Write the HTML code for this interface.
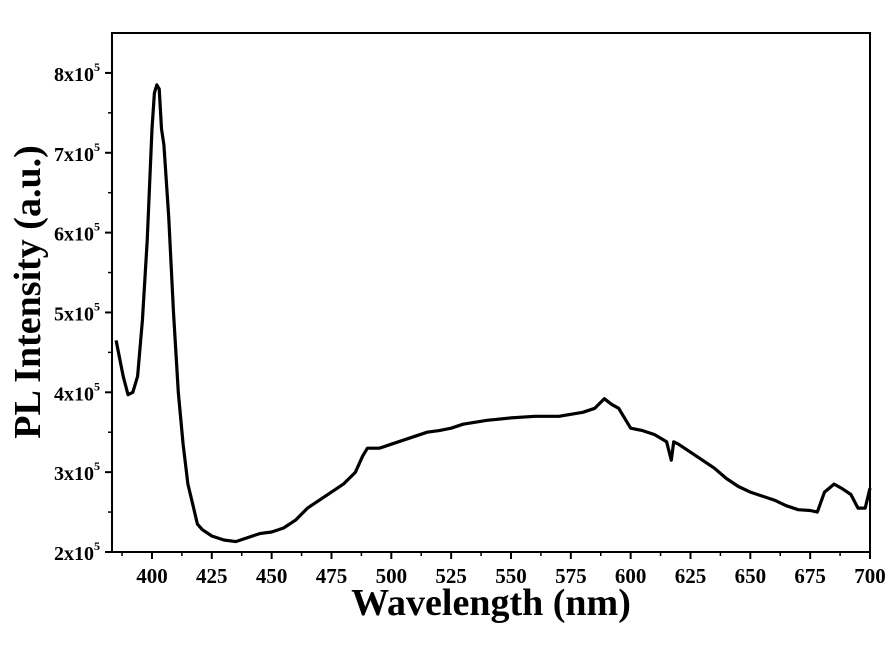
<!DOCTYPE html>
<html><head><meta charset="utf-8"><style>
body{margin:0;background:#fff;}
svg text{font-family:"Liberation Serif",serif;font-weight:bold;fill:#000;}
</style></head><body>
<svg id="chart" width="889" height="655">
<g id="axes"></g>
<path id="curve" fill="none" stroke="#000" stroke-width="3.2" stroke-linejoin="round"></path>
<rect x="112" y="33" width="758" height="519" fill="none" stroke="#000" stroke-width="2"></rect>
<text x="491" y="615" font-size="38" text-anchor="middle">Wavelength (nm)</text>
<text transform="translate(40,292) rotate(-90)" font-size="38" text-anchor="middle">PL Intensity (a.u.)</text>
</svg>
<script>
const wavelengths=[385,388,390,392,394,396,398,399,400,401,402,403,404,405,407,409,411,413,415,417,419,421,425,430,435,440,445,450,455,460,465,470,475,480,485,488,490,495,500,505,510,515,520,525,530,540,550,560,570,580,585,589,592,595,598,600,605,610,615,617,618,620,625,630,635,640,645,650,655,660,665,670,675,678,681,685,688,692,695,698,700];
const intensities=[4.65,4.2,3.97,4.0,4.2,4.9,5.9,6.6,7.3,7.75,7.85,7.8,7.3,7.1,6.2,5.0,4.0,3.35,2.85,2.6,2.35,2.28,2.2,2.15,2.13,2.18,2.23,2.25,2.3,2.4,2.55,2.65,2.75,2.85,3.0,3.2,3.3,3.3,3.35,3.4,3.45,3.5,3.52,3.55,3.6,3.65,3.68,3.7,3.7,3.75,3.8,3.92,3.85,3.8,3.65,3.55,3.52,3.47,3.38,3.15,3.38,3.35,3.25,3.15,3.05,2.92,2.82,2.75,2.7,2.65,2.58,2.53,2.52,2.5,2.75,2.85,2.8,2.72,2.55,2.55,2.8];
const xTicks=[400,425,450,475,500,525,550,575,600,625,650,675,700];
const yTicks=[2,3,4,5,6,7,8];
const X0=112,X1=870,Y0=552,Y1=33,XMIN=383.3,XMAX=700,YMIN=2,YMAX=8.5;
const sx=v=>X0+(v-XMIN)/(XMAX-XMIN)*(X1-X0);
const sy=v=>Y0-(v-YMIN)/(YMAX-YMIN)*(Y0-Y1);
const NS="http://www.w3.org/2000/svg";
const axes=document.getElementById('axes');
function mk(t,a){const e=document.createElementNS(NS,t);for(const k in a)e.setAttribute(k,a[k]);axes.appendChild(e);return e;}
xTicks.forEach(v=>{
  const l=mk('line',{x1:sx(v),x2:sx(v),y1:Y0,y2:Y0+7,stroke:'#000','stroke-width':2});
  
  
  const m=mk('line',{x1:sx(v-12.5),x2:sx(v-12.5),y1:Y0,y2:Y0+4,stroke:'#000','stroke-width':1.5});
  
  
  const t=mk('text',{x:sx(v),y:Y0+31,'font-size':21,'text-anchor':'middle'});
  t.textContent=v;
  
  
});
yTicks.forEach(v=>{
  const l=mk('line',{x1:X0-7,x2:X0,y1:sy(v),y2:sy(v),stroke:'#000','stroke-width':2});
  
  
  if(v+0.5<YMAX){const m=mk('line',{x1:X0-4,x2:X0,y1:sy(v+0.5),y2:sy(v+0.5),stroke:'#000','stroke-width':1.5});
  
  }
  const t=mk('text',{x:X0-12,y:sy(v)+8,'font-size':20,'text-anchor':'end'});
  t.innerHTML=v+'x10<tspan dy="-10" font-size="12">5</tspan>';
  
  
});
document.getElementById('curve').setAttribute('d',wavelengths.map((w,i)=>(i?'L':'M')+sx(w).toFixed(1)+','+sy(intensities[i]).toFixed(1)).join(''));
</script>
</body></html>
